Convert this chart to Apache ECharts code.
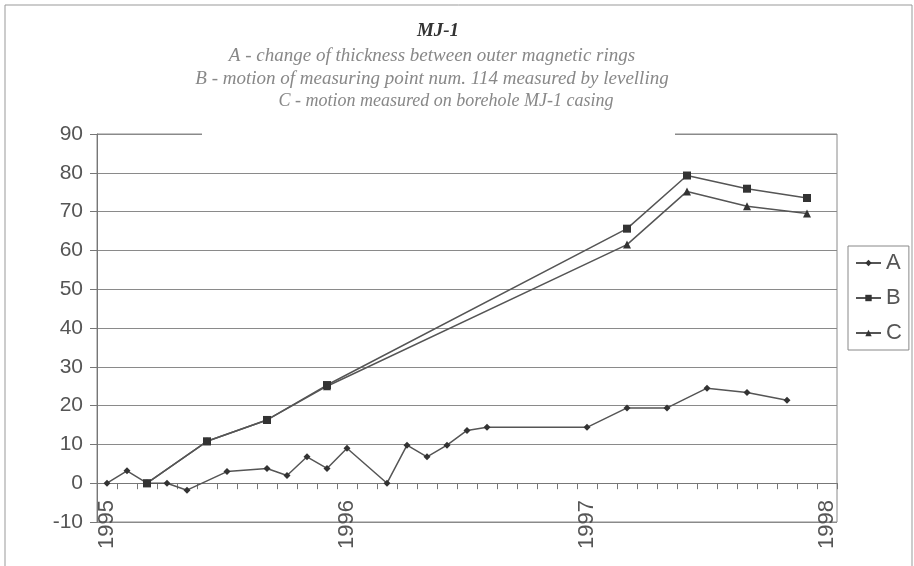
<!DOCTYPE html>
<html>
<head>
<meta charset="utf-8">
<script src="https://cdn.jsdelivr.net/npm/echarts@6/dist/echarts.min.js"></script>
<style>html,body{margin:0;padding:0;background:#fff;}#c{width:914px;height:566px;}</style>
</head>
<body>
<div id="c"></div>
<script>
// Months Jan 1995 .. Jan 1998 (category index = months since Jan 1995)
const months = [
  '1995-01','1995-02','1995-03','1995-04','1995-05','1995-06','1995-07','1995-08','1995-09','1995-10','1995-11','1995-12',
  '1996-01','1996-02','1996-03','1996-04','1996-05','1996-06','1996-07','1996-08','1996-09','1996-10','1996-11','1996-12',
  '1997-01','1997-02','1997-03','1997-04','1997-05','1997-06','1997-07','1997-08','1997-09','1997-10','1997-11','1997-12',
  '1998-01'
];
const yTicks = {min: -10, max: 90, step: 10};

const monthsA = [0, 1, 2, 3, 4, 6, 8, 9, 10, 11, 12, 14, 15, 16, 17, 18, 19, 24, 26, 28, 30, 32, 34];
const valuesA = [0, 3.2, 0, 0, -1.8, 3, 3.8, 2, 6.8, 3.8, 9, 0, 9.8, 6.8, 9.8, 13.6, 14.4, 14.4, 19.4, 19.4, 24.5, 23.4, 21.4];

const monthsB = [2, 5, 8, 11, 26, 29, 32, 35];
const valuesB = [0, 10.8, 16.3, 25.3, 65.6, 79.3, 75.9, 73.5];

const monthsC = [2, 5, 8, 11, 26, 29, 32, 35];
const valuesC = [0, 10.8, 16.3, 25.0, 61.5, 75.2, 71.4, 69.5];

const titleText = 'MJ-1';
const subLines = [
  'A - change of thickness between outer magnetic rings',
  'B - motion of measuring point num. 114 measured by levelling',
  'C - motion measured on borehole MJ-1 casing'
];

function pairs(ms, vs) { return ms.map((m, i) => [m, vs[i]]); }

const chart = echarts.init(document.getElementById('c'));
const lineCol = '#555';
const markCol = '#333';
const serif = '"Liberation Serif", "DejaVu Serif", serif';
const sans = '"Liberation Sans", Arial, sans-serif';

function mkSeries(name, data, symbol, size) {
  return {
    name: name, type: 'line', data: data, symbol: symbol, symbolSize: size,
    showAllSymbol: true, connectNulls: true,
    lineStyle: {color: lineCol, width: 1.5},
    itemStyle: {color: markCol},
    z: 5
  };
}

chart.setOption({
  animation: false,
  backgroundColor: '#fff',
  grid: {left: 97, right: 77, top: 134, bottom: 44, show: true, borderColor: '#8a8a8a', borderWidth: 1,
    containLabel: false, outerBoundsMode: 'none'},
  xAxis: {
    type: 'category', data: months, boundaryGap: true,
    axisLine: {onZero: true, lineStyle: {color: '#777', width: 1}},
    axisTick: {show: true, interval: 0, length: 6, inside: false, lineStyle: {color: '#777'}},
    axisLabel: {interval: 11, rotate: 90, margin: -22, fontSize: 22, fontFamily: sans, color: '#555',
      formatter: v => v.slice(0, 4)},
    splitLine: {show: false}
  },
  yAxis: {
    type: 'value', min: yTicks.min, max: yTicks.max, interval: yTicks.step,
    axisLine: {show: true, lineStyle: {color: '#777'}},
    axisTick: {show: true, length: 7, lineStyle: {color: '#777'}},
    axisLabel: {fontSize: 21, fontFamily: sans, color: '#555', margin: 14},
    splitLine: {show: true, lineStyle: {color: '#8a8a8a', width: 1}}
  },
  legend: {
    orient: 'vertical', left: 848, top: 246,
    data: ['A', 'B', 'C'],
    itemWidth: 25, itemHeight: 8, itemGap: 13,
    padding: [6, 7, 6, 7],
    borderColor: '#888', borderWidth: 1,
    textStyle: {fontSize: 22, fontFamily: sans, color: '#555'}
  },
  graphic: [
    {type: 'rect', z: 50, shape: {x: 5, y: 5, width: 907, height: 620}, style: {fill: 'none', stroke: '#999', lineWidth: 1}},
    {type: 'rect', z: 50, shape: {x: 202, y: 12, width: 473, height: 128}, style: {fill: '#fff'}},
    {type: 'text', z: 60, x: 438, y: 31, style: {text: titleText, textAlign: 'center', textVerticalAlign: 'middle',
      font: 'italic bold 19px ' + serif, fill: '#333'}},
    {type: 'text', z: 60, x: 432, y: 56, style: {text: subLines[0], textAlign: 'center', textVerticalAlign: 'middle',
      font: 'italic 19px ' + serif, fill: '#888'}},
    {type: 'text', z: 60, x: 432, y: 79, style: {text: subLines[1], textAlign: 'center', textVerticalAlign: 'middle',
      font: 'italic 19px ' + serif, fill: '#888'}},
    {type: 'text', z: 60, x: 446, y: 101, style: {text: subLines[2], textAlign: 'center', textVerticalAlign: 'middle',
      font: 'italic 18px ' + serif, fill: '#888'}}
  ],
  series: [
    mkSeries('A', pairs(monthsA, valuesA), 'diamond', 7),
    mkSeries('B', pairs(monthsB, valuesB), 'rect', 8),
    mkSeries('C', pairs(monthsC, valuesC), 'triangle', 8)
  ]
});
</script>
</body>
</html>
